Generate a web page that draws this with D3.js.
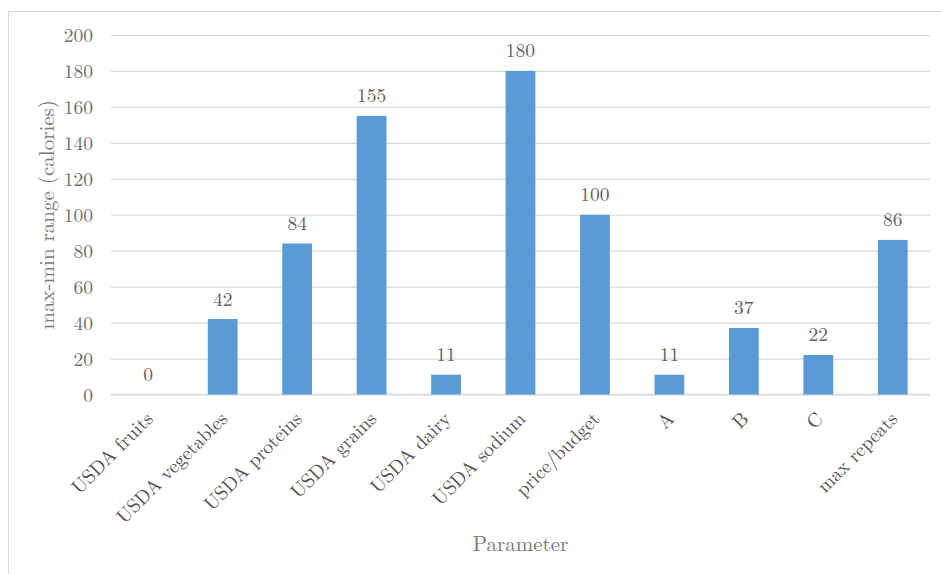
<!DOCTYPE html>
<html>
<head>
<meta charset="utf-8">
<script src="https://cdn.jsdelivr.net/npm/d3@7"></script>
</head>
<body style="margin:0;background:#fff">
<svg id="chart" width="941" height="574" font-family="Latin Modern Roman, Liberation Serif, serif"></svg>
<script>
const categories = ["USDA fruits", "USDA vegetables", "USDA proteins", "USDA grains", "USDA dairy",
  "USDA sodium", "price/budget", "A", "B", "C", "max repeats"];
const values = [0, 42, 84, 155, 11, 180, 100, 11, 37, 22, 86];
const yTicks = [0, 20, 40, 60, 80, 100, 120, 140, 160, 180, 200];
const yTitle = "max-min range (calories)";
const xTitle = "Parameter";

const FONT = "Latin Modern Roman, Liberation Serif, serif";
const svg = d3.select("#chart");
const W = 941, H = 574;
const plot = { left: 111, right: 930, top: 35, bottom: 394.5 };

svg.append("path")
  .attr("d", `M8.5,${H} V11.5 H${W}`)
  .attr("fill", "none").attr("stroke", "#d9d9d9").attr("stroke-width", 1.2);

const x = d3.scaleBand().domain(categories).range([plot.left, plot.right]).paddingInner(0.6).paddingOuter(0.3);
const y = d3.scaleLinear().domain([0, 200]).range([plot.bottom, plot.top]);

const yAxis = d3.axisLeft(y).tickValues(yTicks).tickSize(-(plot.right - plot.left)).tickPadding(18).tickFormat(d3.format("d"));
const gy = svg.append("g").attr("transform", `translate(${plot.left},0)`).call(yAxis);
gy.attr("font-family", FONT).attr("font-size", 19.5);
gy.select(".domain").remove();
gy.selectAll(".tick line").attr("stroke", "#d9d9d9").attr("stroke-width", 1.2);
gy.selectAll(".tick text").attr("fill", "#6e6e6e").attr("dy", "0.34em");

svg.append("line").attr("x1", plot.left).attr("x2", plot.right)
  .attr("y1", y(0)).attr("y2", y(0)).attr("stroke", "#d9d9d9").attr("stroke-width", 1.6);

svg.append("g").selectAll("rect").data(values).join("rect")
  .attr("x", (d, i) => x(categories[i]))
  .attr("width", x.bandwidth())
  .attr("y", d => y(d))
  .attr("height", d => y(0) - y(d))
  .attr("fill", "#5b9bd5");

svg.append("g").attr("font-family", FONT).attr("font-size", 19.5)
  .selectAll("text").data(values).join("text")
  .attr("x", (d, i) => x(categories[i]) + x.bandwidth() / 2)
  .attr("y", d => y(d) - 13.5)
  .attr("text-anchor", "middle")
  .attr("fill", "#5f5f5f")
  .text(d => d);

svg.append("g").attr("font-family", FONT).attr("font-size", 19.5)
  .selectAll("text").data(categories).join("text")
  .attr("transform", d => `translate(${x(d) + x.bandwidth() / 2 + 6},420) rotate(-45)`)
  .attr("text-anchor", "end")
  .attr("fill", "#555555")
  .text(d => d);

svg.append("text")
  .attr("font-family", FONT).attr("font-size", 21)
  .attr("x", (plot.left + plot.right) / 2).attr("y", 551)
  .attr("text-anchor", "middle").attr("fill", "#7a7a7a")
  .text(xTitle);

svg.append("text")
  .attr("font-family", FONT).attr("font-size", 21)
  .attr("transform", `translate(54,${(plot.top + plot.bottom) / 2}) rotate(-90)`)
  .attr("text-anchor", "middle").attr("fill", "#7a7a7a")
  .text(yTitle);
</script>
</body>
</html>
